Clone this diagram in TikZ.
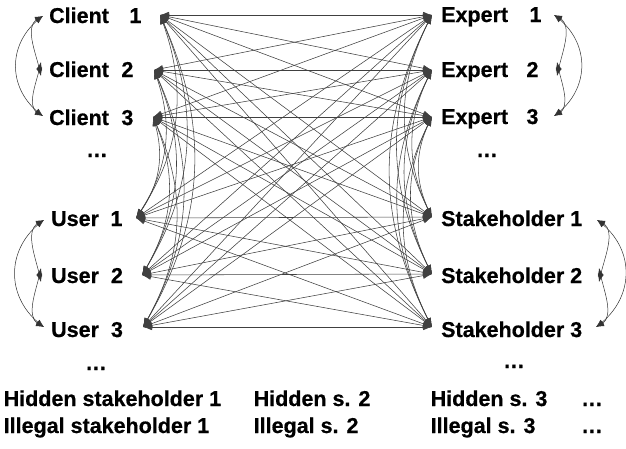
\documentclass[tikz,border=0pt]{standalone}
\usepackage{fontspec}
\setmainfont{Liberation Sans}
\newfontfamily\lblfont{Liberation Sans Bold}[FakeBold=0.6]
\usetikzlibrary{arrows.meta,bending}
\begin{document}
\begin{tikzpicture}[x=1pt,y=1pt,
  lbl/.style={anchor=base west,inner sep=0pt,font=\fontsize{21.5}{21.5}\lblfont},
  link/.style={draw=black!75,line width=0.55pt,{Latex[length=9pt,width=6.5pt]}-{Latex[length=9pt,width=6.5pt]}},
  sidearc/.style={draw=black!80,line width=0.5pt,{Latex[length=8pt,width=6pt]}-{Latex[length=8pt,width=6pt]}}]
\useasboundingbox (0,0) rectangle (626,-448);
% labels
\node[lbl] (cl1) at (49,-23) {Client\hspace{20.5pt}1};
\node[lbl] (cl2) at (49,-77) {Client\hspace{12.5pt}2};
\node[lbl] (cl3) at (49,-125) {Client\hspace{12.5pt}3};
\node[lbl] (cdots) at (86,-157) {…};
\node[lbl] (ex1) at (441,-22) {Expert\hspace{21.4pt}1};
\node[lbl] (ex2) at (441,-77) {Expert\hspace{18.4pt}2};
\node[lbl] (ex3) at (441,-124) {Expert\hspace{18.4pt}3};
\node[lbl] (edots) at (476,-157) {…};
\node[lbl] (us1) at (51,-226) {User\hspace{11.5pt}1};
\node[lbl] (us2) at (51,-283) {User\hspace{12pt}2};
\node[lbl] (us3) at (51,-337) {User\hspace{12pt}3};
\node[lbl] (udots) at (85,-370) {…};
\node[lbl] (st1) at (441,-226) {Stakeholder 1};
\node[lbl] (st2) at (441,-283) {Stakeholder 2};
\node[lbl] (st3) at (441,-337) {Stakeholder 3};
\node[lbl] (sdots) at (503,-368) {…};
\node[lbl] (h1) at (3.5,-406) {Hidden stakeholder 1};
\node[lbl] (h2) at (253.5,-406) {Hidden s. 2};
\node[lbl] (h3) at (430.5,-406) {Hidden s. 3};
\node[lbl] (h4) at (581,-406) {…};
\node[lbl] (i1) at (3.5,-433) {Illegal stakeholder 1};
\node[lbl] (i2) at (253.5,-433) {Illegal s. 2};
\node[lbl] (i3) at (430.5,-433) {Illegal s. 3};
\node[lbl] (i4) at (581,-433) {…};
% connection points
\coordinate (c1) at (160,-15);
\coordinate (c2) at (154,-70);
\coordinate (c3) at (153,-117);
\coordinate (u1) at (136,-218);
\coordinate (u2) at (142,-275);
\coordinate (u3) at (143,-327);
\coordinate (e1) at (432,-15);
\coordinate (e2) at (432,-70);
\coordinate (e3) at (432,-117);
\coordinate (s1) at (432,-217);
\coordinate (s2) at (432,-274);
\coordinate (s3) at (432,-327);
% side points (middle ones: top tip t and bottom tip b of the diamond)
\coordinate (cL1) at (43,-16);
\coordinate (cL2t) at (41,-62);
\coordinate (cL2b) at (41,-76);
\coordinate (cL3) at (43,-116);
\coordinate (uL1) at (44,-220);
\coordinate (uL2t) at (41,-268);
\coordinate (uL2b) at (41,-282);
\coordinate (uL3) at (44,-327);
\coordinate (eR1) at (554,-15);
\coordinate (eR2t) at (557,-62);
\coordinate (eR2b) at (557,-76);
\coordinate (eR3) at (554,-116);
\coordinate (sR1) at (597,-220);
\coordinate (sR2t) at (599,-268);
\coordinate (sR2b) at (599,-282);
\coordinate (sR3) at (596,-327);
% straight links
\foreach \l in {c1,c2,c3,u1,u2,u3}
  \foreach \r in {e1,e2,e3,s1,s2,s3}
    \draw[link] (\l) -- (\r);
% curved links in columns
\foreach \a in {c1,c2,c3}
  \foreach \b in {u1,u2,u3}
    \draw[link] (\a) to[bend left=28] (\b);
\foreach \a in {e1,e2,e3}
  \foreach \b in {s1,s2,s3}
    \draw[link] (\a) to[bend right=28] (\b);
% side arcs
\draw[sidearc] (cL1) to[out=195,in=100] (cL2b);
\draw[sidearc] (cL2t) to[out=260,in=165] (cL3);
\draw[sidearc] (cL1) to[out=215,in=145,looseness=1.15] (cL3);
\draw[sidearc] (uL1) to[out=195,in=100] (uL2b);
\draw[sidearc] (uL2t) to[out=260,in=165] (uL3);
\draw[sidearc] (uL1) to[out=215,in=145,looseness=1.15] (uL3);
\draw[sidearc] (eR1) to[out=-15,in=80] (eR2b);
\draw[sidearc] (eR2t) to[out=-80,in=15] (eR3);
\draw[sidearc] (eR1) to[out=-35,in=35,looseness=1.15] (eR3);
\draw[sidearc] (sR1) to[out=-15,in=80] (sR2b);
\draw[sidearc] (sR2t) to[out=-80,in=15] (sR3);
\draw[sidearc] (sR1) to[out=-35,in=35,looseness=1.15] (sR3);
\end{tikzpicture}
\end{document}
